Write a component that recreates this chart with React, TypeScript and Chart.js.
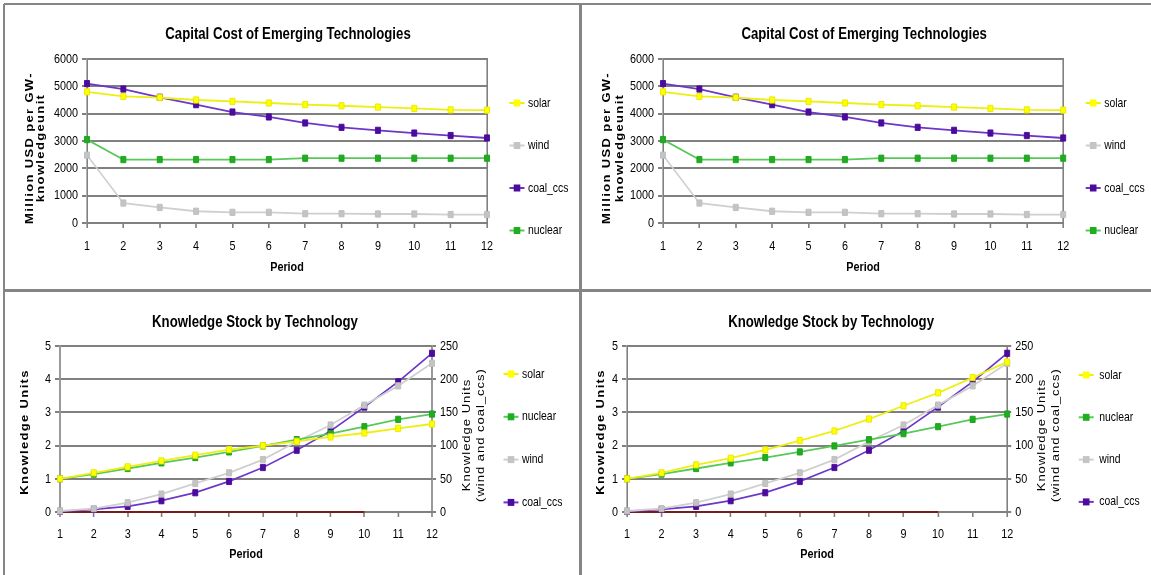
import React, { useEffect, useRef } from 'react';
import { Chart, registerables } from 'chart.js';

Chart.register(...registerables);

// ---------- data ----------
const periods = ['1', '2', '3', '4', '5', '6', '7', '8', '9', '10', '11', '12'];

const costTitle = 'Capital Cost of Emerging Technologies';
const stockTitle = 'Knowledge Stock by Technology';

const costTickLabels = ['0', '1000', '2000', '3000', '4000', '5000', '6000'];
const stockLeftTickLabels = ['0', '1', '2', '3', '4', '5'];
const stockRightTickLabels = ['0', '50', '100', '150', '200', '250'];

const solarCost = [4800, 4630, 4590, 4500, 4450, 4390, 4330, 4290, 4240, 4190, 4140, 4130];
const windCost = [2480, 730, 570, 430, 390, 390, 340, 340, 330, 330, 310, 310];
const coalCost = [5100, 4900, 4600, 4330, 4060, 3880, 3660, 3500, 3390, 3290, 3200, 3110];
const nuclearCost = [3050, 2320, 2320, 2320, 2320, 2320, 2370, 2370, 2370, 2370, 2370, 2370];

const solarStockA = [1.0, 1.18, 1.36, 1.54, 1.71, 1.88, 2.0, 2.13, 2.26, 2.38, 2.52, 2.65];
const solarStockB = [1.0, 1.18, 1.42, 1.62, 1.87, 2.15, 2.44, 2.8, 3.2, 3.59, 4.05, 4.52];
const nuclearStock = [1.0, 1.14, 1.31, 1.48, 1.64, 1.81, 1.99, 2.18, 2.36, 2.57, 2.79, 2.95];
const windStock = [1.5, 5, 14, 27, 43, 59, 79, 106, 131, 161, 190, 224];
const coalStock = [1, 4, 8.5, 17, 29, 46, 67, 93, 122, 158, 196, 239];
const zeroSeries = [0, 0, 0, 0, 0, 0, 0, 0, 0, 0];

// ---------- styles ----------
const FONT = "'Liberation Sans', Arial, sans-serif";
const GRID = '#808080';
// horizontal squeeze applied to the whole drawing (narrow, Excel-export look)
const SX = 0.8;
const h = (v: number) => v / SX;

const STYLE: Record<string, { line: string; point: string; pborder: string }> = {
  solar: { line: '#eeee10', point: '#ffff00', pborder: '#e8e800' },
  wind: { line: '#cfcfcf', point: '#c4c4c4', pborder: '#bdbdbd' },
  coal_ccs: { line: '#6c36c8', point: '#4c0a9e', pborder: '#4a0a9a' },
  nuclear: { line: '#58c858', point: '#1fae1f', pborder: '#1aa01a' },
};

function series(label: string, data: number[], axis: string) {
  const s = STYLE[label];
  return {
    label,
    data,
    yAxisID: axis,
    borderColor: s.line,
    backgroundColor: s.point,
    borderWidth: 1.8,
    pointStyle: 'rect',
    pointRadius: 4.4,
    pointBorderWidth: 1,
    pointBackgroundColor: s.point,
    pointBorderColor: s.pborder,
    tension: 0,
    clip: false,
  };
}

// ---------- plugins ----------
const squeeze = {
  id: 'squeeze',
  beforeDraw(chart: any) {
    chart.ctx.save();
    chart.ctx.scale(SX, 1);
  },
};
const unsqueeze = {
  id: 'unsqueeze',
  afterDraw(chart: any) {
    chart.ctx.restore();
  },
};

const sideLegend = {
  id: 'sideLegend',
  afterDraw(chart: any, _args: any, opts: any) {
    const { ctx, chartArea } = chart;
    const items = chart.data.datasets.filter((d: any) => d.label);
    ctx.save();
    items.forEach((d: any, i: number) => {
      const mx = chartArea.right + h(opts.dx);
      const my = chartArea.top + opts.y0 + i * opts.step;
      ctx.strokeStyle = d.borderColor;
      ctx.lineWidth = 2;
      ctx.beginPath();
      ctx.moveTo(mx - h(7.5), my);
      ctx.lineTo(mx + h(7.5), my);
      ctx.stroke();
      ctx.fillStyle = d.pointBackgroundColor;
      ctx.fillRect(mx - h(3.3), my - 3.5, h(6.6), 7);
      ctx.fillStyle = '#000';
      ctx.font = `13px ${FONT}`;
      ctx.textAlign = 'left';
      ctx.textBaseline = 'middle';
      ctx.fillText(d.label, mx + h(opts.textDx), my);
    });
    ctx.restore();
  },
};

const spacedTitles = {
  id: 'spacedTitles',
  beforeDraw(chart: any, _args: any, opts: any) {
    const scale: any = chart.scales.y;
    if (!scale || scale.__spaced) return;
    const orig = scale.drawTitle;
    const sp = opts.spacing;
    const dy = opts.dy || 0;
    scale.drawTitle = function () {
      const c = this.ctx;
      c.save();
      c.letterSpacing = sp;
      c.translate(0, dy);
      orig.call(this);
      c.restore();
    };
    scale.__spaced = true;
  },
};

const rightTitle = {
  id: 'rightTitle',
  afterDraw(chart: any, _args: any, opts: any) {
    if (!opts.lines) return;
    const scale = chart.scales[opts.scaleId];
    if (!scale) return;
    const ctx = chart.ctx;
    const cy = (scale.top + scale.bottom) / 2 + (opts.dy || 0);
    ctx.save();
    ctx.font = `13px ${FONT}`;
    ctx.letterSpacing = '1px';
    ctx.fillStyle = '#000';
    ctx.textAlign = 'center';
    ctx.textBaseline = 'middle';
    opts.lines.forEach((line: string, i: number) => {
      ctx.save();
      ctx.translate(scale.left + h(opts.offsets[i]), cy);
      ctx.rotate(-Math.PI / 2);
      ctx.fillText(line, 0, 0);
      ctx.restore();
    });
    ctx.restore();
  },
};

// ---------- panels (horizontal sizes in screen px) ----------
type Spec = {
  id: string;
  left: number;
  top: number;
  width: number;
  height: number;
  kind: 'cost' | 'stock';
  solar: number[];
  padRight: number;
  titlePad: { top: number; bottom: number };
  yWidth: number;
  y2Width: number;
  xHeight: number;
  yTitleCenter: number;
  yTitlePitch: number;
  yTitleDy: number;
  periodPadBottom: number;
  xTickPad: number;
  legend: { dx: number; textDx: number; y0: number; step: number };
};

const panels: Spec[] = [
  {
    id: 'tl', left: 0, top: 0, width: 580, height: 290, kind: 'cost', solar: solarCost,
    padRight: 4, titlePad: { top: 25, bottom: 14.2 }, yWidth: 87, y2Width: 89, xHeight: 67,
    yTitleCenter: 30, yTitlePitch: 11.5, yTitleDy: 7, periodPadBottom: 14.2, xTickPad: 10,
    legend: { dx: 30, textDx: 11, y0: 44, step: 42.5 },
  },
  {
    id: 'tr', left: 580, top: 0, width: 571, height: 290, kind: 'cost', solar: solarCost,
    padRight: 3, titlePad: { top: 25, bottom: 14.2 }, yWidth: 83, y2Width: 85, xHeight: 67,
    yTitleCenter: 27.5, yTitlePitch: 12.5, yTitleDy: 7, periodPadBottom: 14.2, xTickPad: 10,
    legend: { dx: 30, textDx: 11, y0: 44, step: 42.5 },
  },
  {
    id: 'bl', left: 0, top: 290, width: 580, height: 285, kind: 'stock', solar: solarStockA,
    padRight: 70, titlePad: { top: 23, bottom: 13.2 }, yWidth: 60, y2Width: 78, xHeight: 63,
    yTitleCenter: 25, yTitlePitch: 12, yTitleDy: 3, periodPadBottom: 12.2, xTickPad: 9,
    legend: { dx: 79, textDx: 11, y0: 28, step: 42.8 },
  },
  {
    id: 'br', left: 580, top: 290, width: 571, height: 285, kind: 'stock', solar: solarStockB,
    padRight: 69, titlePad: { top: 23, bottom: 13.2 }, yWidth: 47, y2Width: 75, xHeight: 63,
    yTitleCenter: 21, yTitlePitch: 12, yTitleDy: 3, periodPadBottom: 12.2, xTickPad: 9,
    legend: { dx: 79, textDx: 13, y0: 29, step: 42.3 },
  },
];

const tickFont = { family: FONT, size: 13.5 };

function buildConfig(spec: Spec): any {
  const isCost = spec.kind === 'cost';
  const datasets: any[] = isCost
    ? [
        series('solar', spec.solar, 'y'),
        series('wind', windCost, 'y'),
        series('coal_ccs', coalCost, 'y'),
        series('nuclear', nuclearCost, 'y'),
      ]
    : [
        series('solar', spec.solar, 'y'),
        series('nuclear', nuclearStock, 'y'),
        series('wind', windStock, 'y2'),
        series('coal_ccs', coalStock, 'y2'),
        {
          label: '',
          data: zeroSeries,
          yAxisID: 'y',
          borderColor: '#7a1a1a',
          borderWidth: 2,
          pointRadius: 0,
          tension: 0,
          clip: false,
        },
      ];

  const leftLabels = isCost ? costTickLabels : stockLeftTickLabels;
  const yTitleSize = 13;
  const lhPx = h(spec.yTitlePitch);
  const yTitlePadTop = h(spec.yTitleCenter) - lhPx / 2;

  const y2 = isCost
    ? {
        type: 'linear',
        position: 'right',
        min: 0,
        max: 1,
        afterFit: (s: any) => { s.width = h(spec.y2Width); },
        grid: { display: false },
        ticks: { display: false },
        border: { display: true, color: GRID, width: 2 },
      }
    : {
        type: 'linear',
        position: 'right',
        min: 0,
        max: 250,
        afterFit: (s: any) => { s.width = h(spec.y2Width); },
        grid: { display: true, drawOnChartArea: false, drawTicks: true, tickLength: h(4), color: GRID, lineWidth: 2 },
        border: { display: true, color: GRID, width: 2 },
        ticks: {
          stepSize: 50,
          font: tickFont,
          color: '#000',
          padding: h(4),
          callback: (_v: any, i: number) => stockRightTickLabels[i],
        },
      };

  return {
    type: 'line',
    data: { labels: periods, datasets },
    options: {
      responsive: false,
      maintainAspectRatio: false,
      animation: false,
      events: [],
      layout: { padding: { left: 0, right: h(spec.padRight), top: 0, bottom: 0 } },
      scales: {
        x: {
          type: 'category',
          offset: false,
          afterFit: (s: any) => { s.height = spec.xHeight; },
          grid: {
            display: true, drawOnChartArea: false, drawTicks: true, tickLength: 5,
            color: GRID, tickColor: GRID, lineWidth: 2, offset: false,
          },
          border: { display: true, color: GRID, width: 2 },
          ticks: { font: tickFont, color: '#000', padding: spec.xTickPad, maxRotation: 0, autoSkip: false },
          title: {
            display: true,
            text: 'Period',
            color: '#000',
            font: { family: FONT, size: 13.5, weight: 'bold', lineHeight: 1.2 },
            padding: { top: 0, bottom: spec.periodPadBottom },
          },
        },
        y: {
          type: 'linear',
          position: 'left',
          min: 0,
          max: isCost ? 6000 : 5,
          afterFit: (s: any) => { s.width = h(spec.yWidth); },
          grid: { color: GRID, lineWidth: 2, drawTicks: true, tickLength: h(5) },
          border: { display: true, color: GRID, width: 2 },
          ticks: {
            stepSize: isCost ? 1000 : 1,
            font: tickFont,
            color: '#000',
            padding: h(4),
            callback: (_v: any, i: number) => leftLabels[i],
          },
          title: {
            display: true,
            text: isCost ? ['Million USD per GW-', 'knowledgeunit'] : 'Knowledge Units',
            color: '#000',
            font: { family: FONT, size: yTitleSize, weight: 'bold', lineHeight: lhPx / yTitleSize },
            padding: { top: yTitlePadTop, bottom: 0 },
          },
        },
        y2,
      },
      plugins: {
        legend: { display: false },
        tooltip: { enabled: false },
        title: {
          display: true,
          text: isCost ? costTitle : stockTitle,
          color: '#000',
          font: { family: FONT, size: 16.5, weight: 'bold', lineHeight: 1.2 },
          padding: spec.titlePad,
        },
        sideLegend: spec.legend,
        spacedTitles: { spacing: '1.35px', dy: spec.yTitleDy },
        rightTitle: isCost
          ? {}
          : { scaleId: 'y2', lines: ['Knowledge Units', '(wind and coal_ccs)'], offsets: [35, 49], dy: 6 },
      },
    },
    plugins: [squeeze, spacedTitles, sideLegend, rightTitle, unsqueeze],
  };
}

function Panel({ spec }: { spec: Spec }) {
  const ref = useRef<HTMLCanvasElement | null>(null);
  const cw = Math.ceil(h(spec.width));
  useEffect(() => {
    if (!ref.current) return;
    const chart = new Chart(ref.current, buildConfig(spec));
    return () => chart.destroy();
  }, [spec]);
  return (
    <div
      style={{
        position: 'absolute', left: spec.left, top: spec.top, width: spec.width, height: spec.height,
        overflow: 'hidden',
      }}
    >
      <canvas ref={ref} width={cw} height={spec.height} style={{ display: 'block' }} />
    </div>
  );
}

const lineStyle = (l: number, t: number, w: number, hh: number): React.CSSProperties => ({
  position: 'absolute', left: l, top: t, width: w, height: hh, background: '#858585',
});

export default function App() {
  return (
    <div style={{ position: 'absolute', left: 0, top: 0, width: 1151, height: 575, background: '#fff', overflow: 'hidden' }}>
      {panels.map((p) => (
        <Panel key={p.id} spec={p} />
      ))}
      <div style={lineStyle(4, 3, 1147, 2)} />
      <div style={lineStyle(3, 4, 2, 571)} />
      <div style={lineStyle(579, 4, 3, 571)} />
      <div style={lineStyle(4, 289, 1147, 3)} />
    </div>
  );
}
